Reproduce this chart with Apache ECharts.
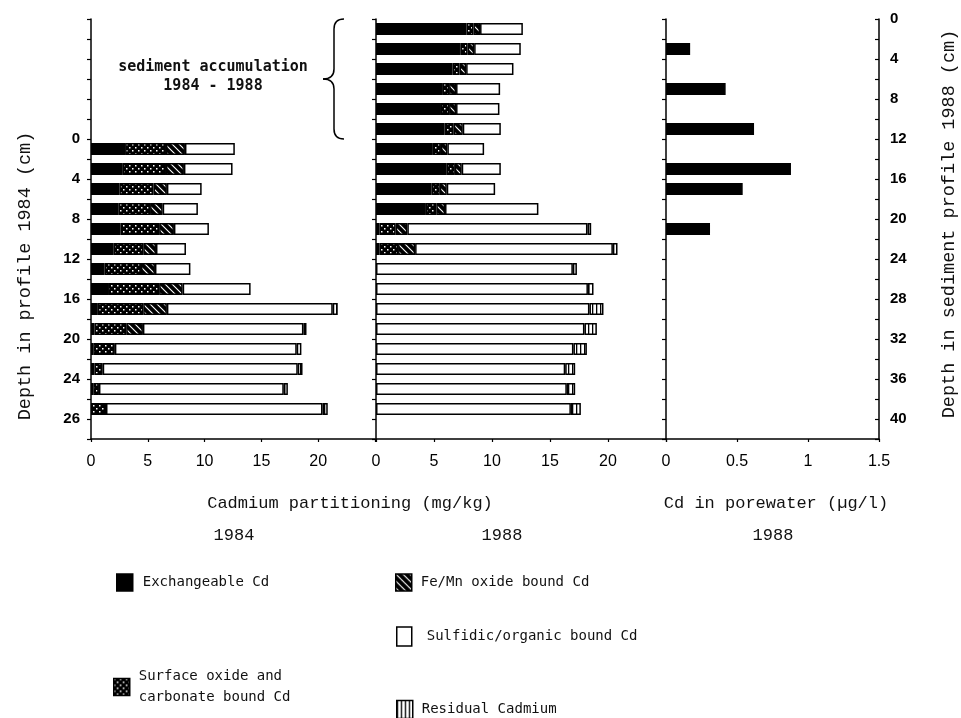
<!DOCTYPE html>
<html><head><meta charset="utf-8">
<script src="https://cdn.jsdelivr.net/npm/echarts@6/dist/echarts.min.js"></script>
<style>html,body{margin:0;padding:0;background:#fff}#c{width:961px;height:718px}</style>
</head><body><div id="c"></div>
<script>
// 2-cm depth slots of the 1988 sediment profile (cm)
const slots1988 = ['0-2','2-4','4-6','6-8','8-10','10-12','12-14','14-16','16-18','18-20','20-22',
  '22-24','24-26','26-28','28-30','30-32','32-34','34-36','36-38','38-40','40-42'];
const accumulation = 12; // cm of sediment deposited 1984-1988

// 1984 profile (slot tops, cm, 1984 depth) - Cd fractions, mg/kg
const depth1984 = [0,2,4,6,8,10,12,14,16,18,20,22,24,26];
const exch1984  = [3.0,2.8,2.5,2.4,2.6,2.0,1.2,1.5,0.6,0.3,0.2,0.3,0.2,0];
const surf1984  = [3.6,3.8,3.0,2.8,3.4,2.6,3.2,4.5,4.0,2.8,1.9,0.73,0.5,1.32];
const femn1984  = [1.67,1.58,1.18,1.11,1.3,1.12,1.23,2.07,2.08,1.47,0,0,0,0];
const sulf1984  = [4.39,4.28,3.06,3.10,3.08,2.64,3.12,5.98,14.6,14.13,16.01,17.17,16.27,19.06];
const resid1984 = [0,0,0,0,0,0,0,0,0.44,0.27,0.41,0.42,0.36,0.46];

// 1988 profile (slot tops, cm)
const depth1988 = [0,2,4,6,8,10,12,14,16,18,20,22,24,26,28,30,32,34,36,38];
const exch1988  = [7.8,7.3,6.6,5.7,5.6,5.9,4.9,6.1,4.8,4.3,0.3,0.3,0,0,0,0,0,0,0,0];
const surf1988  = [0.6,0.6,0.6,0.6,0.7,0.8,0.7,0.7,0.7,0.9,1.4,1.6,0,0,0,0,0,0,0,0];
const femn1988  = [0.57,0.56,0.57,0.6,0.6,0.78,0.55,0.59,0.6,0.75,1.0,1.47,0,0,0,0,0,0,0,0];
const sulf1988  = [3.69,4.02,4.08,3.80,3.74,3.28,3.17,3.37,4.17,8.05,15.53,17.05,16.97,18.27,18.4,17.97,17.02,16.31,16.45,16.8];
const resid1988 = [0,0,0,0,0,0,0,0,0,0,0.32,0.4,0.35,0.48,1.21,1.07,1.16,0.86,0.72,0.86];

// porewater Cd 1988 (slot tops, cm), µg/l
const poreDepth = [2,6,10,14,16,20];
const poreCd    = [0.17,0.42,0.62,0.88,0.54,0.31];

// tick labels
const ticks1984Vals = [0,4,8,12,16,20,24,28];
const ticks1984Text = ['0','4','8','12','16','20','24','26'];
const ticks1988Vals = [0,4,8,12,16,20,24,28,32,36,40];
const xTicksCd = [0,5,10,15,20];
const xTicksPore = [0,0.5,1,1.5];
const xTicksPoreText = ['0','0.5','1','1.5'];

const names = {
  exch: 'Exchangeable Cd',
  surf: 'Surface oxide and\ncarbonate bound Cd',
  femn: 'Fe/Mn oxide bound Cd',
  sulf: 'Sulfidic/organic bound Cd',
  resid: 'Residual Cadmium'
};

function pattern(w, h, draw) {
  const c = document.createElement('canvas'); c.width = w; c.height = h;
  const g = c.getContext('2d'); draw(g, w, h);
  return { image: c, repeat: 'repeat' };
}
const colSurf = pattern(6, 6, (g) => { g.fillStyle = '#000'; g.fillRect(0,0,6,6); g.fillStyle = '#fff'; g.fillRect(0,0,1.5,1.5); g.fillRect(3,3,1.5,1.5); });
const colFemn = pattern(7, 7, (g) => {
  g.fillStyle = '#000'; g.fillRect(0,0,7,7);
  g.strokeStyle = '#fff'; g.lineWidth = 1.1;
  g.beginPath(); g.moveTo(-1,-1); g.lineTo(8,8); g.moveTo(6,-1); g.lineTo(8,1); g.moveTo(-1,6); g.lineTo(1,8); g.stroke();
});
const colResid = pattern(4, 4, (g) => { g.fillStyle = '#fff'; g.fillRect(0,0,4,4); g.fillStyle = '#000'; g.fillRect(0,0,1.3,4); });

function place(depths, values, offsetCm) {
  const arr = slots1988.map(() => '-');
  depths.forEach((d, i) => {
    const v = values[i];
    arr[(d + offsetCm) / 2] = v > 0 ? v : '-';
  });
  return arr;
}

function bar(name, depths, values, offset, xi, yi, stack, color) {
  return {
    type: 'bar', name, xAxisIndex: xi, yAxisIndex: yi, stack, barWidth: 12,
    data: place(depths, values, offset),
    itemStyle: { color, borderColor: '#000', borderWidth: 1.5 },
    emphasis: { disabled: true }, silent: true
  };
}

const series = [
  bar(names.exch, depth1984, exch1984, accumulation, 0, 0, 'p84', '#000'),
  bar(names.surf, depth1984, surf1984, accumulation, 0, 0, 'p84', colSurf),
  bar(names.femn, depth1984, femn1984, accumulation, 0, 0, 'p84', colFemn),
  bar(names.sulf, depth1984, sulf1984, accumulation, 0, 0, 'p84', '#fff'),
  bar(names.resid, depth1984, resid1984, accumulation, 0, 0, 'p84', colResid),
  bar(names.exch, depth1988, exch1988, 0, 1, 2, 'p88', '#000'),
  bar(names.surf, depth1988, surf1988, 0, 1, 2, 'p88', colSurf),
  bar(names.femn, depth1988, femn1988, 0, 1, 2, 'p88', colFemn),
  bar(names.sulf, depth1988, sulf1988, 0, 1, 2, 'p88', '#fff'),
  bar(names.resid, depth1988, resid1988, 0, 1, 2, 'p88', colResid),
  bar('Cd in porewater', poreDepth, poreCd, 0, 2, 3, null, '#000')
];

const axisLine = { show: true, onZero: false, lineStyle: { color: '#000', width: 1.5 } };
const tickStyle = { color: '#000', width: 1.2 };
const xLabel = { margin: 15, fontSize: 16, color: '#000', fontFamily: 'Liberation Sans' };
const yLabelFont = { fontSize: 15, fontWeight: 'bold', color: '#000', fontFamily: 'Liberation Sans' };

function xCd(gi) {
  return { gridIndex: gi, type: 'value', min: 0, max: 25, interval: 5, axisLine,
    axisTick: { show: true, length: 3, lineStyle: tickStyle }, splitLine: { show: false },
    axisLabel: Object.assign({ formatter: v => xTicksCd.includes(v) ? String(v) : '' }, xLabel) };
}
function yCat(gi) {
  return { gridIndex: gi, type: 'category', data: slots1988, inverse: true, position: 'left',
    axisLine, axisTick: { show: true, length: 4, lineStyle: tickStyle }, axisLabel: { show: false }, splitLine: { show: false } };
}

const gridTop = 19, gridH = 420;
const option = {
  animation: false,
  backgroundColor: '#fff',
  grid: [
    { left: 91, top: gridTop, width: 284, height: gridH, outerBoundsMode: 'none' },
    { left: 376, top: gridTop, width: 290, height: gridH, outerBoundsMode: 'none' },
    { left: 666, top: gridTop, width: 213, height: gridH, outerBoundsMode: 'none' }
  ],
  xAxis: [
    xCd(0), xCd(1),
    { gridIndex: 2, type: 'value', min: 0, max: 1.5, interval: 0.5, axisLine,
      axisTick: { show: true, length: 3, lineStyle: tickStyle }, splitLine: { show: false },
      axisLabel: Object.assign({ formatter: v => { const i = xTicksPore.indexOf(v); return i >= 0 ? xTicksPoreText[i] : ''; } }, xLabel) }
  ],
  yAxis: [
    yCat(0),
    { gridIndex: 0, type: 'value', min: -accumulation, max: 42 - accumulation, interval: 2, inverse: true, position: 'left',
      axisLine: { show: false, onZero: false }, axisTick: { show: false }, splitLine: { show: false },
      axisLabel: Object.assign({ margin: 11, formatter: v => { const i = ticks1984Vals.indexOf(v); return i >= 0 ? ticks1984Text[i] : ''; } }, yLabelFont) },
    yCat(1),
    yCat(2),
    { gridIndex: 2, type: 'value', min: 0, max: 42, interval: 2, inverse: true, position: 'right',
      axisLine, axisTick: { show: true, inside: true, length: 4, lineStyle: tickStyle }, splitLine: { show: false },
      axisLabel: Object.assign({ margin: 11, formatter: v => ticks1988Vals.includes(v) ? String(v) : '' }, yLabelFont) }
  ],
  legend: [],
  series
};

const legendBase = (name, left, top, gap, extra) => Object.assign({
  data: [name], left, top, padding: 0, icon: 'rect', itemWidth: 16, itemHeight: 17, itemGap: 0,
  selectedMode: false,
  itemStyle: { borderColor: '#000', borderWidth: 1.5 },
  textStyle: { fontFamily: 'DejaVu Sans Mono', fontSize: 14, color: '#111', padding: [0, 0, 0, gap], lineHeight: 21 }
}, extra || {});
option.legend = [
  legendBase(names.exch, 116, 572, 5),
  legendBase(names.femn, 395, 572, 4),
  legendBase(names.sulf, 396, 626, 10, { itemWidth: 15, itemHeight: 19 }),
  legendBase(names.surf, 113, 666, 4),
  legendBase(names.resid, 396, 699, 4, { itemHeight: 18 })
];

const chart = echarts.init(document.getElementById('c'), null, { renderer: 'canvas' });
chart.setOption(option);

// annotations
const yAt = cm => chart.convertToPixel({ yAxisIndex: 4 }, cm);
const y0 = yAt(0), y12 = yAt(accumulation), ym = (y0 + y12) / 2;
const braceStyle = { stroke: '#000', lineWidth: 1.5, fill: null };
const curve = (x1, y1, cx, cy, x2, y2) => ({ type: 'bezierCurve', silent: true,
  shape: { x1, y1, cpx1: cx, cpy1: cy, x2, y2 }, style: braceStyle });
const seg = (x1, y1, x2, y2) => ({ type: 'line', silent: true, shape: { x1, y1, x2, y2 }, style: braceStyle });
const monoTxt = (text, x, y, font, rot) => ({
  type: 'text', x, y, rotation: rot || 0, silent: true,
  style: { text, font, fill: '#111', align: 'center', verticalAlign: 'middle', textAlign: 'center', textVerticalAlign: 'middle', lineHeight: 19 }
});
const nameFont = '18.5px "Liberation Mono"';
const titleFont = '17px "Liberation Mono"';
chart.setOption({
  graphic: [
    curve(344, y0, 334, y0, 334, y0 + 10),
    seg(334, y0 + 10, 334, ym - 10),
    curve(334, ym - 10, 334, ym, 323, ym),
    curve(323, ym, 334, ym, 334, ym + 10),
    seg(334, ym + 10, 334, y12 - 10),
    curve(334, y12 - 10, 334, y12, 344, y12),
    monoTxt('sediment accumulation\n1984 - 1988', 213, ym - 2, 'bold 15px "DejaVu Sans Mono"'),
    monoTxt('Depth in profile 1984 (cm)', 25, 276, nameFont, Math.PI / 2),
    monoTxt('Depth in sediment profile 1988 (cm)', 949, 224, nameFont, Math.PI / 2),
    monoTxt('Cadmium partitioning (mg/kg)', 350, 503, titleFont),
    monoTxt('Cd in porewater (µg/l)', 776, 503, titleFont),
    monoTxt('1984', 234, 535, titleFont),
    monoTxt('1988', 502, 535, titleFont),
    monoTxt('1988', 773, 535, titleFont)
  ]
});
</script></body></html>
